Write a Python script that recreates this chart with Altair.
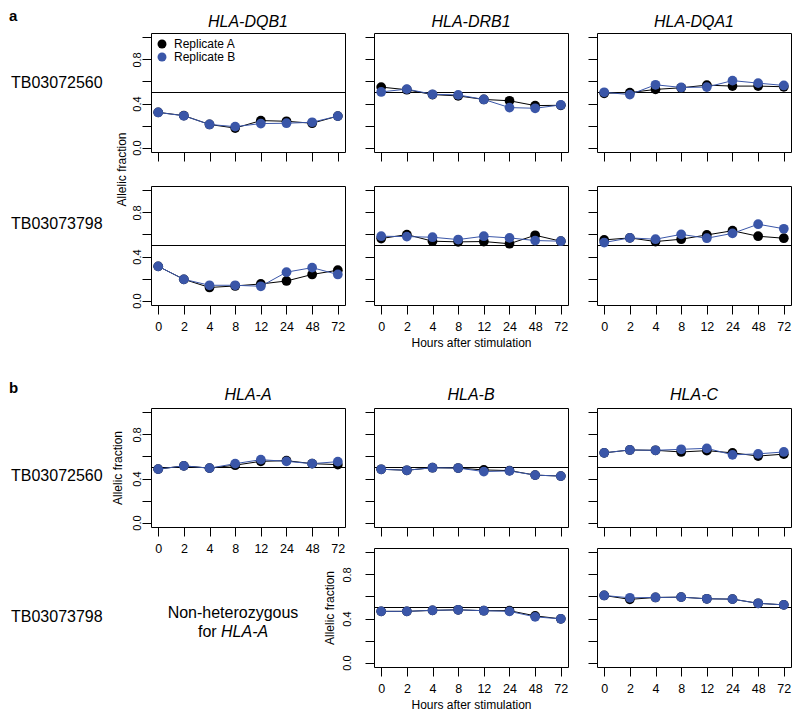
import altair as alt
import pandas as pd

# ---------------- data ----------------
HOURS = ["0", "2", "4", "8", "12", "24", "48", "72"]
HOUR_ORDER = list(range(len(HOURS)))
REPLICATES = ["Replicate A", "Replicate B"]
REP_COLORS = ["#000000", "#3A56A8"]
SAMPLES = ["TB03072560", "TB03073798"]
GENES_A = ["HLA-DQB1", "HLA-DRB1", "HLA-DQA1"]
GENES_B = ["HLA-A", "HLA-B", "HLA-C"]
Y_TICKS = [0.0, 0.2, 0.4, 0.6, 0.8, 1.0]
Y_DOMAIN = [-0.04, 1.04]
REF_LINE = [0.5]
Y_TITLE = "Allelic fraction"
X_TITLE = "Hours after stimulation"
NOTE_LINE1 = "Non-heterozygous"
NOTE_LINE2 = ["for", "HLA-A"]

# section a, sample TB03072560
DQB1_S1_A = [0.320, 0.290, 0.210, 0.177, 0.245, 0.239, 0.221, 0.286]
DQB1_S1_B = [0.319, 0.289, 0.210, 0.190, 0.218, 0.221, 0.230, 0.286]
DRB1_S1_A = [0.549, 0.525, 0.481, 0.469, 0.437, 0.425, 0.381, 0.384]
DRB1_S1_B = [0.505, 0.531, 0.484, 0.478, 0.437, 0.363, 0.357, 0.387]
DQA1_S1_A = [0.493, 0.499, 0.528, 0.543, 0.567, 0.558, 0.558, 0.552]
DQA1_S1_B = [0.502, 0.481, 0.570, 0.546, 0.549, 0.608, 0.585, 0.564]
# section a, sample TB03073798
DQB1_S2_A = [0.311, 0.193, 0.119, 0.133, 0.151, 0.178, 0.237, 0.276]
DQB1_S2_B = [0.311, 0.193, 0.139, 0.139, 0.130, 0.258, 0.299, 0.237]
DRB1_S2_A = [0.563, 0.599, 0.539, 0.533, 0.536, 0.516, 0.593, 0.539]
DRB1_S2_B = [0.584, 0.581, 0.575, 0.554, 0.584, 0.569, 0.545, 0.539]
DQA1_S2_A = [0.551, 0.569, 0.536, 0.557, 0.596, 0.634, 0.584, 0.566]
DQA1_S2_B = [0.527, 0.569, 0.557, 0.601, 0.566, 0.610, 0.693, 0.652]
# section b, sample TB03072560
A_S1_A = [0.485, 0.515, 0.494, 0.521, 0.556, 0.562, 0.535, 0.526]
A_S1_B = [0.485, 0.515, 0.494, 0.535, 0.571, 0.556, 0.535, 0.553]
B_S1_A = [0.484, 0.475, 0.498, 0.495, 0.478, 0.472, 0.431, 0.422]
B_S1_B = [0.484, 0.475, 0.498, 0.495, 0.463, 0.469, 0.431, 0.422]
C_S1_A = [0.633, 0.659, 0.656, 0.641, 0.653, 0.633, 0.604, 0.621]
C_S1_B = [0.633, 0.659, 0.656, 0.665, 0.674, 0.615, 0.624, 0.641]
# section b, sample TB03073798
B_S2_A = [0.465, 0.465, 0.474, 0.479, 0.471, 0.471, 0.424, 0.397]
B_S2_B = [0.465, 0.465, 0.474, 0.479, 0.471, 0.465, 0.415, 0.397]
C_S2_A = [0.609, 0.574, 0.591, 0.594, 0.579, 0.576, 0.538, 0.524]
C_S2_B = [0.609, 0.588, 0.591, 0.594, 0.579, 0.576, 0.538, 0.524]

# ---------------- layout / style ----------------
FONT = "Liberation Sans"
PW, PH = 194, 119
LABEL_W = 113
COL_GAP = 29

Y_LABEL_EXPR = ("(round(datum.value * 10) % 4 == 0 && datum.value < 0.9) "
                "? format(datum.value, '.1f') : ''")


def panel(a_vals, b_vals, title=None, title_offset=3, xlabels=False, xtitle=None,
          ylabels=False, ytitle=None, ytitle_y=None, ylabel_pad=0, ytitle_pad=4,
          legend=False):
    df = pd.DataFrame({
        "hour": HOURS * 2,
        "order": HOUR_ORDER * 2,
        "replicate": [REPLICATES[0]] * len(HOURS) + [REPLICATES[1]] * len(HOURS),
        "value": list(a_vals) + list(b_vals),
    })
    xaxis = dict(labelAngle=0, domain=False, grid=False, ticks=True, tickSize=9,
                 tickWidth=1, tickColor="black", labels=xlabels, labelFontSize=12.5,
                 labelColor="black", labelPadding=6, labelBaseline="top",
                 labelOverlap=False, title=xtitle)
    if xtitle:
        xaxis.update(titleFontSize=12, titleFontWeight="normal", titleColor="black",
                     titlePadding=5)
    yaxis = dict(values=Y_TICKS, domain=False, grid=False, tickSize=9, tickWidth=1,
                 tickColor="black", labels=ylabels, labelExpr=Y_LABEL_EXPR,
                 labelAngle=270, labelAlign="center", labelBaseline="bottom",
                 labelFontSize=11, labelColor="black", labelPadding=ylabel_pad,
                 labelOverlap=False, title=ytitle)
    if ytitle:
        yaxis.update(titleFontSize=12, titleFontWeight="normal", titleColor="black",
                     titlePadding=ytitle_pad)
    if ytitle_y is not None:
        yaxis["titleY"] = ytitle_y

    x = alt.X("hour:O", sort=HOURS, scale=alt.Scale(type="point", padding=0.28),
              axis=alt.Axis(**xaxis))
    y = alt.Y("value:Q", scale=alt.Scale(domain=Y_DOMAIN, nice=False, zero=False),
              axis=alt.Axis(**yaxis))
    cscale = alt.Scale(domain=REPLICATES, range=REP_COLORS)
    if legend:
        leg = alt.Legend(orient="top-left", title=None, offset=5, padding=0,
                         symbolType="circle", symbolSize=80, symbolStrokeWidth=0,
                         symbolOpacity=1, labelFontSize=12, labelFont=FONT,
                         labelColor="black", labelOffset=6, rowPadding=1,
                         labelLimit=200)
    else:
        leg = None

    rule = alt.Chart(pd.DataFrame({"value": REF_LINE})).mark_rule(
        color="black", strokeWidth=1).encode(y=y)
    layers = [rule]
    for rep, col in zip(REPLICATES, REP_COLORS):
        sub = alt.Chart(df).transform_filter(alt.datum.replicate == rep)
        layers.append(sub.mark_line(strokeWidth=1, color=col).encode(
            x=x, y=y, order="order:Q"))
        layers.append(sub.mark_point(filled=True, size=95, opacity=1).encode(
            x=x, y=y, color=alt.Color("replicate:N", scale=cscale, legend=leg)))
    ch = alt.layer(*layers).properties(width=PW, height=PH)
    if title:
        ch = ch.properties(title=alt.TitleParams(
            text=title, fontSize=16, fontStyle="italic", fontWeight="normal",
            font=FONT, color="black", offset=title_offset, anchor="middle"))
    return ch


def label_cell(sample, label_y, letter=None, letter_y=0):
    layers = [alt.Chart(pd.DataFrame({"label": [sample]})).mark_text(
        align="left", baseline="middle", fontSize=16, font=FONT, color="black"
    ).encode(text="label:N", x=alt.value(2), y=alt.value(label_y))]
    if letter:
        layers.append(alt.Chart(pd.DataFrame({"label": [letter]})).mark_text(
            align="left", baseline="alphabetic", fontSize=15, fontWeight="bold",
            font=FONT, color="black"
        ).encode(text="label:N", x=alt.value(0), y=alt.value(letter_y)))
    return alt.layer(*layers).properties(
        width=LABEL_W, height=PH, view=alt.ViewBackground(stroke="transparent"))


def note_cell():
    l1 = alt.Chart(pd.DataFrame({"t": [NOTE_LINE1]})).mark_text(
        align="center", baseline="middle", fontSize=16, font=FONT, color="black"
    ).encode(text="t:N", x=alt.value(82), y=alt.value(65))
    l2a = alt.Chart(pd.DataFrame({"t": [NOTE_LINE2[0]]})).mark_text(
        align="left", baseline="middle", fontSize=16, font=FONT, color="black"
    ).encode(text="t:N", x=alt.value(47), y=alt.value(84))
    l2b = alt.Chart(pd.DataFrame({"t": [NOTE_LINE2[1]]})).mark_text(
        align="left", baseline="middle", fontSize=16, font=FONT, color="black",
        fontStyle="italic"
    ).encode(text="t:N", x=alt.value(70), y=alt.value(84))
    return alt.layer(l1, l2a, l2b).properties(
        width=PW, height=PH, view=alt.ViewBackground(stroke="transparent"))


a_cells = [
    label_cell(SAMPLES[0], 50, "a", -12),
    panel(DQB1_S1_A, DQB1_S1_B, title=GENES_A[0], ylabels=True, ytitle=Y_TITLE,
          ytitle_y=PH + 17, ytitle_pad=3, legend=True),
    panel(DRB1_S1_A, DRB1_S1_B, title=GENES_A[1]),
    panel(DQA1_S1_A, DQA1_S1_B, title=GENES_A[2]),
    label_cell(SAMPLES[1], 38),
    panel(DQB1_S2_A, DQB1_S2_B, xlabels=True, ylabels=True),
    panel(DRB1_S2_A, DRB1_S2_B, xlabels=True, xtitle=X_TITLE),
    panel(DQA1_S2_A, DQA1_S2_B, xlabels=True),
]
section_a = alt.concat(*a_cells, columns=4, spacing={"row": 34, "column": COL_GAP},
                       bounds="flush").resolve_scale(color="independent")

b_cells = [
    label_cell(SAMPLES[0], 68, "b", -15),
    panel(A_S1_A, A_S1_B, title=GENES_B[0], title_offset=5, xlabels=True,
          ylabels=True, ytitle=Y_TITLE, ytitle_pad=7),
    panel(B_S1_A, B_S1_B, title=GENES_B[1], title_offset=5),
    panel(C_S1_A, C_S1_B, title=GENES_B[2], title_offset=5),
    label_cell(SAMPLES[1], 69),
    note_cell(),
    panel(B_S2_A, B_S2_B, xlabels=True, xtitle=X_TITLE, ylabels=True,
          ytitle=Y_TITLE, ylabel_pad=13, ytitle_pad=5),
    panel(C_S2_A, C_S2_B, xlabels=True),
]
section_b = alt.concat(*b_cells, columns=4, spacing={"row": 21, "column": COL_GAP},
                       bounds="flush").resolve_scale(color="independent")

chart = (
    alt.vconcat(section_a, section_b, spacing=31)
    .resolve_scale(color="independent")
    .properties(padding=0)
    .configure(font=FONT)
    .configure_view(stroke="black", strokeWidth=1)
)

chart.save("out.html", embed_options={"renderer": "svg", "actions": False})
